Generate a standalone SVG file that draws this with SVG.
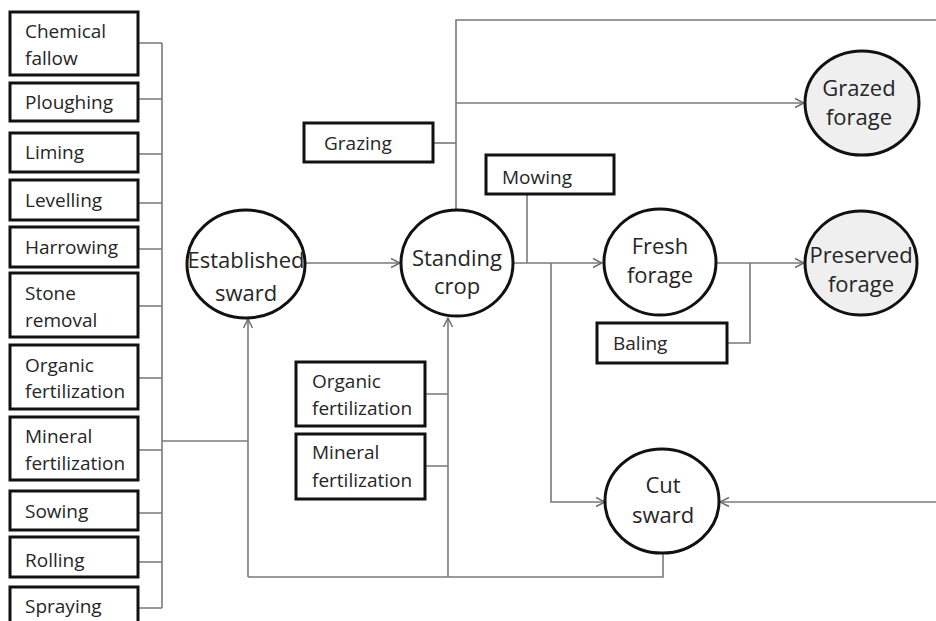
<svg xmlns="http://www.w3.org/2000/svg" width="936" height="621" viewBox="0 0 936 621">
<defs>
<marker id="arr" markerUnits="userSpaceOnUse" markerWidth="12" markerHeight="12" viewBox="0 0 12 12" refX="11" refY="6" orient="auto">
<path d="M2,1.5 L11,6 L2,10.5" fill="none" stroke="#6e6e6e" stroke-width="1.5"/>
</marker>
</defs>
<style>
.box{fill:#fff;stroke:#111;stroke-width:3}
.node{fill:#fff;stroke:#111;stroke-width:3}
.shade{fill:#efefef}
.bt{font-family:"Open Sans","Noto Sans","Liberation Sans",sans-serif;font-size:19px;fill:#262626}
.ct{font-family:"Open Sans","Noto Sans","Liberation Sans",sans-serif;font-size:22px;fill:#262626;text-anchor:middle}
.ln{fill:none;stroke:#7a7a7a;stroke-width:1.6}
</style>
<rect width="936" height="621" fill="#fff"/>
<g id="connectors">
<path class="ln" d="M138,43 H162 M138,99 H162 M138,154 H162 M138,203 H162 M138,249 H162 M138,306 H162 M138,378 H162 M138,450 H162 M138,513 H162 M138,562 H162 M138,608 H162 M162,43 V608"/>
<path class="ln" d="M162,441 H248"/>
<path class="ln" d="M248,577 V319" marker-end="url(#arr)"/>
<path class="ln" d="M248,577 H663 V554"/>
<path class="ln" d="M448,577 V318" marker-end="url(#arr)"/>
<path class="ln" d="M425,394 H448 M425,466 H448"/>
<path class="ln" d="M305,263 H400" marker-end="url(#arr)"/>
<path class="ln" d="M433,143 H456"/>
<path class="ln" d="M456,210 V20 H940"/>
<path class="ln" d="M456,103 H804" marker-end="url(#arr)"/>
<path class="ln" d="M940,502 H720" marker-end="url(#arr)"/>
<path class="ln" d="M527,194 V263"/>
<path class="ln" d="M513,263 H602" marker-end="url(#arr)"/>
<path class="ln" d="M551,263 V502 H605" marker-end="url(#arr)"/>
<path class="ln" d="M716,263 H804" marker-end="url(#arr)"/>
<path class="ln" d="M750,263 V343 H727"/>
</g>
<g id="chemical-fallow"><rect class="box" x="10" y="12" width="128" height="63"/><text class="bt" x="25" y="38">Chemical</text><text class="bt" x="25" y="65">fallow</text></g>
<g id="ploughing"><rect class="box" x="10" y="83" width="128" height="38"/><text class="bt" x="25" y="109">Ploughing</text></g>
<g id="liming"><rect class="box" x="10" y="133" width="128" height="39"/><text class="bt" x="25" y="159">Liming</text></g>
<g id="levelling"><rect class="box" x="10" y="180" width="128" height="40"/><text class="bt" x="25" y="207">Levelling</text></g>
<g id="harrowing"><rect class="box" x="10" y="227" width="128" height="40"/><text class="bt" x="25" y="254">Harrowing</text></g>
<g id="stone-removal"><rect class="box" x="10" y="273" width="128" height="64"/><text class="bt" x="25" y="300">Stone</text><text class="bt" x="25" y="327">removal</text></g>
<g id="organic-fertilization-left"><rect class="box" x="10" y="345" width="128" height="64"/><text class="bt" x="25" y="372">Organic</text><text class="bt" x="25" y="398">fertilization</text></g>
<g id="mineral-fertilization-left"><rect class="box" x="10" y="417" width="128" height="63"/><text class="bt" x="25" y="443">Mineral</text><text class="bt" x="25" y="470">fertilization</text></g>
<g id="sowing"><rect class="box" x="10" y="491" width="128" height="39"/><text class="bt" x="25" y="518">Sowing</text></g>
<g id="rolling"><rect class="box" x="10" y="537" width="128" height="40"/><text class="bt" x="25" y="567">Rolling</text></g>
<g id="spraying"><rect class="box" x="10" y="587" width="128" height="45"/><text class="bt" x="25" y="613">Spraying</text></g>
<g id="grazing"><rect class="box" x="304" y="123" width="129" height="39"/><text class="bt" x="324" y="150">Grazing</text></g>
<g id="mowing"><rect class="box" x="486" y="155" width="128" height="39"/><text class="bt" x="502" y="184">Mowing</text></g>
<g id="baling"><rect class="box" x="597" y="323" width="130" height="40"/><text class="bt" x="613" y="350">Baling</text></g>
<g id="organic-fertilization-center"><rect class="box" x="296" y="362" width="129" height="64"/><text class="bt" x="312" y="388">Organic</text><text class="bt" x="312" y="415">fertilization</text></g>
<g id="mineral-fertilization-center"><rect class="box" x="296" y="434" width="129" height="65"/><text class="bt" x="312" y="459">Mineral</text><text class="bt" x="312" y="487">fertilization</text></g>
<g id="established-sward"><ellipse class="node" cx="246" cy="264" rx="59" ry="54"/><text class="ct" x="246" y="268">Established</text><text class="ct" x="246" y="301">sward</text></g>
<g id="standing-crop"><ellipse class="node" cx="457" cy="263" rx="56" ry="53"/><text class="ct" x="457" y="266">Standing</text><text class="ct" x="457" y="294">crop</text></g>
<g id="fresh-forage"><ellipse class="node" cx="660" cy="262" rx="56" ry="53"/><text class="ct" x="660" y="254">Fresh</text><text class="ct" x="660" y="283">forage</text></g>
<g id="preserved-forage"><ellipse class="node shade" cx="861" cy="263" rx="56" ry="52"/><text class="ct" x="861" y="263">Preserved</text><text class="ct" x="861" y="292">forage</text></g>
<g id="grazed-forage"><ellipse class="node shade" cx="862" cy="103" rx="57" ry="52"/><text class="ct" x="859" y="96">Grazed</text><text class="ct" x="859" y="125">forage</text></g>
<g id="cut-sward"><ellipse class="node" cx="662" cy="501" rx="57" ry="52"/><text class="ct" x="663" y="493">Cut</text><text class="ct" x="663" y="523">sward</text></g>
</svg>
